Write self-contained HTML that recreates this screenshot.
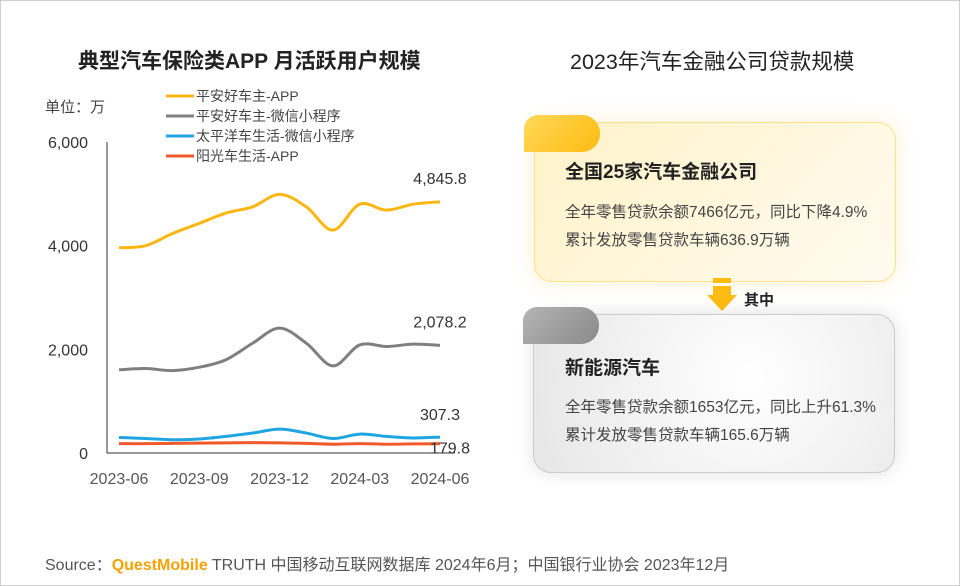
<!DOCTYPE html>
<html><head><meta charset="utf-8"><style>
body{margin:0;width:960px;height:586px;background:#fff;font-family:"Liberation Sans","Noto Sans CJK SC",sans-serif;overflow:hidden}
.frame{position:absolute;left:0;top:0;width:958px;height:584px;border:1px solid #cfcfcf}
.t{position:absolute;color:#222;white-space:nowrap}
.card{position:absolute;border-radius:18px}
</style></head><body>
<div class="frame"></div>
<div class="t" style="left:78px;top:45px;font-size:21px;font-weight:bold">典型汽车保险类APP 月活跃用户规模</div>
<div class="t" style="left:570px;top:45px;font-size:21.5px;">2023年汽车金融公司贷款规模</div>
<div class="t" style="left:45px;top:96px;font-size:15px;color:#444">单位：万</div>
<svg id="chart" width="480" height="500" style="position:absolute;left:0;top:0"></svg>

<div class="card" style="left:534px;top:122px;width:360px;height:158px;background:linear-gradient(135deg,#fff3c8,#fffaf0);border:1px solid #ffe08a;box-shadow:0 0 20px rgba(255,210,100,.3)"></div>
<div style="position:absolute;left:524px;top:115px;width:76px;height:37px;border-radius:14px 18px 18px 0;background:linear-gradient(135deg,#ffd95a,#ffbb10)"></div>
<div class="t" style="left:565px;top:157px;font-size:19px;font-weight:bold">全国25家汽车金融公司</div>
<div class="t" style="left:565px;top:200px;font-size:15.5px;color:#444">全年零售贷款余额7466亿元，同比下降4.9%</div>
<div class="t" style="left:565px;top:228px;font-size:15.5px;color:#444">累计发放零售贷款车辆636.9万辆</div>

<svg width="40" height="40" style="position:absolute;left:705px;top:278px"><rect x="8" y="0" width="18" height="5" fill="#ffbb10"/><rect x="8" y="8" width="18" height="9" fill="#ffbb10"/><polygon points="2,17 32,17 17,33" fill="#ffbb10"/></svg>
<div class="t" style="left:744px;top:289px;font-size:15px;font-weight:bold">其中</div>

<div class="card" style="left:533px;top:314px;width:360px;height:157px;background:radial-gradient(circle at 60% 40%,#fff,#e6e6e6);border:1px solid #ccc;box-shadow:0 0 18px rgba(0,0,0,.12)"></div>
<div style="position:absolute;left:523px;top:307px;width:76px;height:37px;border-radius:14px 18px 18px 0;background:linear-gradient(135deg,#b5b5b5,#8a8a8a)"></div>
<div class="t" style="left:565px;top:353px;font-size:19px;font-weight:bold">新能源汽车</div>
<div class="t" style="left:565px;top:395px;font-size:15.5px;color:#444">全年零售贷款余额1653亿元，同比上升61.3%</div>
<div class="t" style="left:565px;top:423px;font-size:15.5px;color:#444">累计发放零售贷款车辆165.6万辆</div>

<div class="t" style="left:45px;top:551px;font-size:16px;color:#555">Source：<span style="color:#f5a200;font-weight:bold">QuestMobile</span> TRUTH 中国移动互联网数据库 2024年6月；中国银行业协会 2023年12月</div>

<script>
const categories=["2023-06","2023-07","2023-08","2023-09","2023-10","2023-11","2023-12","2024-01","2024-02","2024-03","2024-04","2024-05","2024-06"];
const xTickLabels=["2023-06","2023-09","2023-12","2024-03","2024-06"];
const yTicks=[0,2000,4000,6000];
const seriesNames=["平安好车主-APP","平安好车主-微信小程序","太平洋车生活-微信小程序","阳光车生活-APP"];
const s1=[3960,4000,4235,4430,4630,4750,4990,4750,4300,4800,4685,4800,4845.8];
const s2=[1605,1630,1590,1655,1800,2120,2410,2120,1680,2085,2055,2100,2078.2];
const s3=[300,280,255,270,320,385,460,385,280,365,320,290,307.3];
const s4=[180,180,185,190,195,200,195,185,170,180,170,175,179.8];
const endLabels=["4,845.8","2,078.2","307.3","179.8"];
const colors=["#fbb611","#7f7f7f","#21a5e0","#f05a2a"];
const svg=document.getElementById('chart');const NS="http://www.w3.org/2000/svg";
const x=i=>119+i*(440-119)/(categories.length-1);
const y=v=>453-v*(453-142)/6000;
function mk(t,a){const e=document.createElementNS(NS,t);for(const k in a)e.setAttribute(k,a[k]);svg.appendChild(e);return e;}
let ax=mk('path',{d:'M107,142V453H455',stroke:'#333','stroke-width':1,fill:'none'});


yTicks.forEach(v=>{const t=mk('text',{x:88,y:y(v)+6,'text-anchor':'end','font-size':16,fill:'#333'});t.textContent=v.toLocaleString('en-US');

});
xTickLabels.forEach(l=>{const i=categories.indexOf(l);const t=mk('text',{x:x(i),y:484,'text-anchor':'middle','font-size':16,fill:'#555'});t.textContent=l;

});
function smooth(vals){const p=vals.map((v,i)=>[x(i),y(v)]);let d=`M${p[0][0]},${p[0][1]}`;for(let i=0;i<p.length-1;i++){const p0=p[i-1]||p[i],p1=p[i],p2=p[i+1],p3=p[i+2]||p2;const c1=[p1[0]+(p2[0]-p0[0])/6,p1[1]+(p2[1]-p0[1])/6],c2=[p2[0]-(p3[0]-p1[0])/6,p2[1]-(p3[1]-p1[1])/6];d+=`C${c1[0]},${c1[1]} ${c2[0]},${c2[1]} ${p2[0]},${p2[1]}`;}return d;}
const all=[s1,s2,s3,s4];
const labelOff=[[0,-18],[0,-18],[0,-17],[10,10]];
all.forEach((s,k)=>{const p=mk('path',{d:smooth(s),stroke:colors[k],'stroke-width':3,fill:'none'});


const n=s.length-1;const t=mk('text',{x:x(n)+labelOff[k][0],y:y(s[n])+labelOff[k][1],'text-anchor':'middle','font-size':16,fill:'#333'});t.textContent=endLabels[k];


const ly=96+k*20;const l=mk('line',{x1:166,x2:194,y1:ly,y2:ly,stroke:colors[k],'stroke-width':3});


const lt=mk('text',{x:196,y:ly+5,'font-size':14,fill:'#444'});lt.textContent=seriesNames[k];

});
</script>
</body></html>
